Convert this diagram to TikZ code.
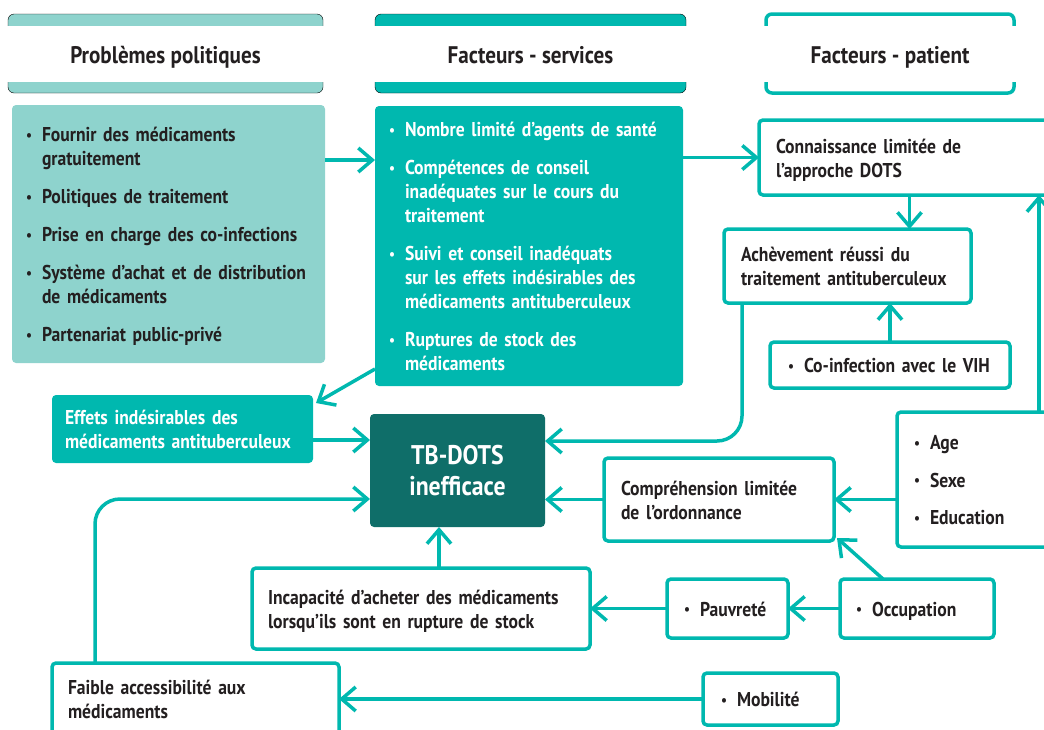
\documentclass[tikz,border=0pt]{standalone}
\usepackage{fontspec}
\setmainfont{PT Sans}[FakeStretch=0.88]
\usepackage{xcolor}
\usepackage{tikz}
\usetikzlibrary{arrows.meta}

\definecolor{tealL}{HTML}{8ED3CD}
\definecolor{tealM}{HTML}{00B8AF}
\definecolor{tealD}{HTML}{0F6E69}
\definecolor{ink}{HTML}{231F20}

\newcommand{\bul}{\makebox[14pt][l]{\hspace{-2pt}\raisebox{1.5pt}{\fontsize{15}{15}\selectfont\textbullet}}}
\newcommand{\lines}[1]{\begin{tabular}{@{}l@{}}\rule{0pt}{22.8pt}#1\end{tabular}}
\newcommand{\items}[1]{\begin{tabular}{@{}l@{}l@{}}\rule{0pt}{22.8pt}#1\end{tabular}}
% header: name, left, right, look, text
\newcommand{\headbox}[5]{%
  \draw[#4, rounded corners=6pt] (#2,14) rectangle (#3,93);
  \fill[white] (#2-4,26) rectangle (#3+4,82);
  \node[headtxt] (#1) at ({(#2+#3)/2},63) {#5};}

\tikzset{
  base/.style={anchor=north west, rounded corners=4pt, outer sep=0pt, inner ysep=0pt,
    align=left, font=\bfseries\fontsize{20}{24}\selectfont},
  sz/.style n args={3}{minimum width=#1pt, minimum height=#2pt, inner xsep=#3pt,
    text width=#1pt-2*#3pt},
  solidbox/.style={base, fill=#1},
  linebox/.style={base, draw=tealM, line width=3.5pt, fill=white, text=ink},
  headtxt/.style={anchor=base, font=\bfseries\fontsize{24}{28}\selectfont, text=ink},
  arr/.style={draw=tealM, line width=3.5pt, -{Straight Barb[length=14pt,width=24pt]}},
}

\begin{document}
\begin{tikzpicture}[x=1pt, y=-1pt]
\useasboundingbox (0,0) rectangle (1044,729);
\clip (0,0) rectangle (1044,729);

% headers
\headbox{hPol}{8}{323}{fill=tealL}{Problèmes politiques}
\headbox{hSrv}{375}{686}{fill=tealM}{Facteurs - services}
\headbox{hPat}{766}{1014}{draw=tealM, line width=3.5pt}{Facteurs - patient}

% policy and services
\node[solidbox=tealL, text=ink, sz={313}{258}{16}] (pol) at (12,105)
  {\items{\bul & Fournir des médicaments\\ & gratuitement\\[14pt]
   \bul & Politiques de traitement\\[14pt]
   \bul & Prise en charge des co-infections\\[14pt]
   \bul & Système d'achat et de distribution\\ & de médicaments\\[14pt]
   \bul & Partenariat public-privé}};
\node[solidbox=tealM, text=white, sz={308}{280}{16}] (srv) at (375,106)
  {\items{\bul & Nombre limité d'agents de santé\\[14pt]
   \bul & Compétences de conseil\\ & inadéquates sur le cours du\\ & traitement\\[14pt]
   \bul & Suivi et conseil inadéquats\\ & sur les effets indésirables des\\ & médicaments antituberculeux\\[14pt]
   \bul & Ruptures de stock des\\ & médicaments}};
\node[solidbox=tealM, text=white, sz={261}{68}{13}] (effets) at (52,395)
  {\lines{Effets indésirables des\\ médicaments antituberculeux}};
\node[solidbox=tealD, text=white, sz={175}{113}{10}, align=center,
  font=\bfseries\fontsize{27}{31}\selectfont] (tb) at (370,414) {TB-DOTS\\inefficace};

% patient side
\node[linebox, sz={301}{75}{17}] (conn) at (759,120)
  {\lines{Connaissance limitée de\\ l'approche DOTS}};
\node[linebox, sz={247}{74}{17}] (ach) at (724,229)
  {\lines{Achèvement réussi du\\ traitement antituberculeux}};
\node[linebox, sz={240}{46}{20}] (coinf) at (770,342) {\lines{\bul Co-infection avec le VIH}};
\node[linebox, sz={163}{135}{19}] (ase) at (897,412)
  {\items{\bul & Age\\[13.5pt] \bul & Sexe\\[13.5pt] \bul & Education}};
\node[linebox, sz={230}{83}{17}] (compr) at (604,458)
  {\lines{Compréhension limitée\\ de l'ordonnance}};
\node[linebox, sz={338}{81}{16}] (incap) at (252,568)
  {\lines{Incapacité d'acheter des médicaments\\ lorsqu'ils sont en rupture de stock}};
\node[linebox, sz={121}{59}{19}] (pauv) at (667,579) {\lines{\bul Pauvreté}};
\node[linebox, sz={154}{59}{18}] (occ) at (840,579) {\lines{\bul Occupation}};
\node[linebox, sz={135}{52}{20}] (mob) at (703,673) {\lines{\bul Mobilité}};
\node[linebox, sz={287}{72}{16}] (faible) at (52,663)
  {\lines{Faible accessibilité aux\\ médicaments}};

% connectors
\coordinate (tbA) at ([yshift=-26pt]tb.north west);
\draw[arr] ([yshift=-55pt]pol.north east) -- ([yshift=-54pt]srv.north west);
\draw[arr] (srv.east |- conn.west) -- (conn.west);
\draw[arr] (conn.south) -- (conn.south |- ach.north);
\draw[arr] (coinf.north) -- (coinf.north |- ach.south);
\draw[arr, rounded corners=25pt] ([xshift=18pt]ach.south west) |- ([yshift=-27pt]tb.north east);
\draw[arr] (compr.west) -- (compr.west -| tb.east);
\draw[arr] (ase.west |- compr.east) -- (compr.east);
\draw[arr] ([xshift=142pt]ase.north west) coordinate (rise) -- (rise |- conn.south);
\draw[arr] ([yshift=17pt]srv.south west) -- ([xshift=3pt,yshift=-8pt]effets.north east);
\draw[arr] (effets.east |- tbA) -- (tbA);
\draw[arr, rounded corners=25pt] ([xshift=43pt]faible.north west) |- ([yshift=28pt]tb.south west);
\draw[arr] ([xshift=187pt]incap.north west) coordinate (lift) -- (lift |- tb.south);
\draw[arr] (pauv.west) -- (pauv.west -| incap.east);
\draw[arr] (occ.west) -- (occ.west -| pauv.east);
\draw[arr] ([xshift=43pt]occ.north west) -- ([xshift=3pt,yshift=3pt]compr.south east);
\draw[arr] (mob.west) -- (mob.west -| faible.east);
\end{tikzpicture}
\end{document}
